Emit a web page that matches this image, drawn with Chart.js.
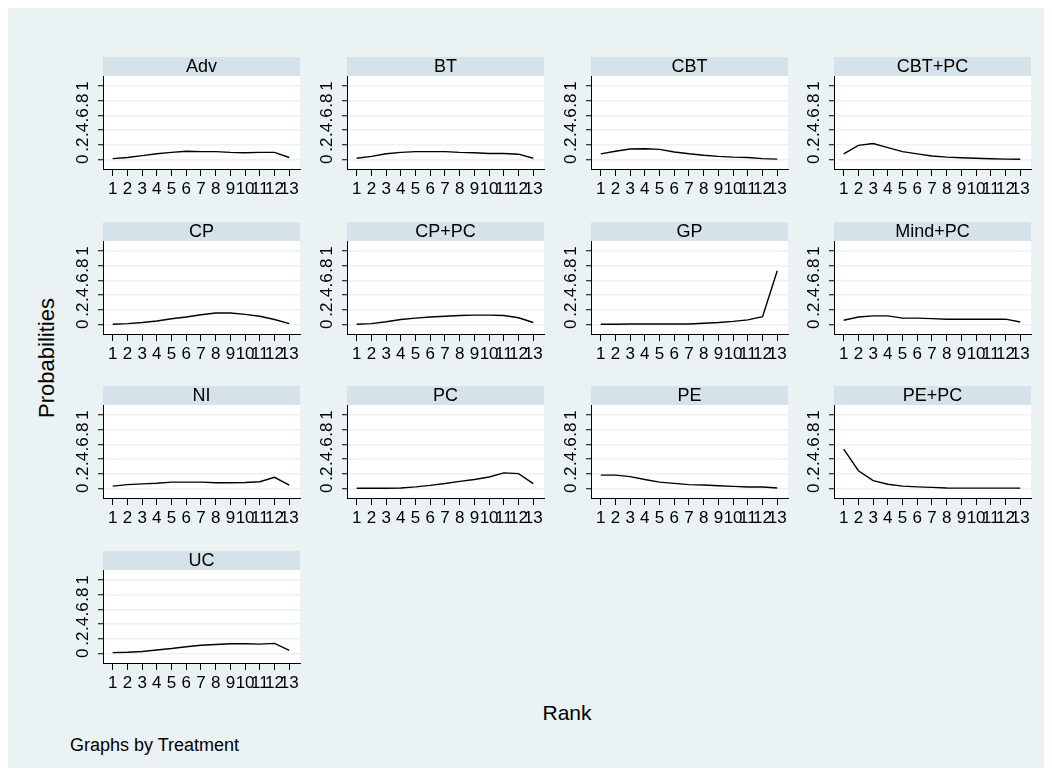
<!DOCTYPE html>
<html>
<head>
<meta charset="utf-8">
<script src="https://cdn.jsdelivr.net/npm/chart.js@4"></script>
<style>
  body { margin: 0; background: #fff; }
  #page { position: relative; width: 1052px; height: 776px; overflow: hidden; }
  #frame { position: absolute; left: 8px; top: 8px; width: 1036px; height: 760px; background: rgb(234,242,243); }
  canvas { position: absolute; }
  .lbl { position: absolute; font-family: "Liberation Sans", Arial, sans-serif; color: #000; white-space: nowrap; }
  #ytitle { left: 47px; top: 358px; font-size: 22px; transform: translate(-50%, -50%) rotate(-90deg); }
  #xtitle { left: 567px; top: 713px; font-size: 21px; transform: translate(-50%, -50%); }
  #note { left: 70px; top: 745px; font-size: 18px; transform: translateY(-50%); }
</style>
</head>
<body>
<div id="page">
  <div id="frame"></div>
  <div class="lbl" id="ytitle">Probabilities</div>
  <div class="lbl" id="xtitle">Rank</div>
  <div class="lbl" id="note">Graphs by Treatment</div>
</div>
<script>
// data
const ranks = [1, 2, 3, 4, 5, 6, 7, 8, 9, 10, 11, 12, 13];
const treatments = ['Adv', 'BT', 'CBT', 'CBT+PC', 'CP', 'CP+PC', 'GP', 'Mind+PC', 'NI', 'PC', 'PE', 'PE+PC', 'UC'];
const adv    = [0.01, 0.025, 0.05, 0.075, 0.095, 0.11, 0.105, 0.105, 0.095, 0.09, 0.095, 0.095, 0.025];
const bt     = [0.015, 0.04, 0.075, 0.095, 0.105, 0.105, 0.105, 0.095, 0.09, 0.08, 0.08, 0.07, 0.015];
const cbt    = [0.075, 0.11, 0.14, 0.145, 0.135, 0.10, 0.075, 0.055, 0.04, 0.03, 0.025, 0.01, 0.003];
const cbtPc  = [0.075, 0.19, 0.215, 0.16, 0.105, 0.075, 0.045, 0.03, 0.022, 0.015, 0.008, 0.002, 0.001];
const cp     = [0, 0.01, 0.025, 0.045, 0.075, 0.10, 0.13, 0.155, 0.155, 0.135, 0.11, 0.065, 0.01];
const cpPc   = [0, 0.01, 0.035, 0.065, 0.085, 0.10, 0.11, 0.12, 0.125, 0.125, 0.12, 0.09, 0.025];
const gp     = [0, 0, 0.005, 0.005, 0.005, 0.005, 0.005, 0.015, 0.025, 0.04, 0.06, 0.105, 0.73];
const mindPc = [0.055, 0.10, 0.115, 0.115, 0.085, 0.085, 0.078, 0.07, 0.07, 0.07, 0.07, 0.07, 0.032];
const ni     = [0.03, 0.05, 0.06, 0.07, 0.085, 0.085, 0.085, 0.075, 0.075, 0.08, 0.09, 0.15, 0.045];
const pc     = [0, 0, 0, 0.005, 0.02, 0.04, 0.065, 0.095, 0.12, 0.155, 0.21, 0.2, 0.065];
const pe     = [0.18, 0.18, 0.16, 0.12, 0.085, 0.068, 0.05, 0.045, 0.036, 0.027, 0.018, 0.018, 0.005];
const pePc   = [0.535, 0.24, 0.105, 0.055, 0.03, 0.02, 0.013, 0.005, 0.002, 0.002, 0.002, 0.002, 0.002];
const uc     = [0.01, 0.015, 0.025, 0.045, 0.065, 0.09, 0.11, 0.12, 0.13, 0.13, 0.125, 0.135, 0.04];
const probs = [adv, bt, cbt, cbtPc, cp, cpPc, gp, mindPc, ni, pc, pe, pePc, uc];
const yTicks = [0, 0.2, 0.4, 0.6, 0.8, 1];
const yTickLabels = ['0', '.2', '.4', '.6', '.8', '1'];

const FONT = '"Liberation Sans", Arial, sans-serif';
const BG = 'rgb(234,242,243)';
const STRIP = 'rgb(214,226,233)';

// panel geometry (page px)
const colLeft = [103, 347, 591, 834];
const rowTop = [76, 241, 405, 570];
const plotW = 197, plotH = 93;
const padL = 40, padR = 6, stripH = 19, padB = 32;

// strip header + rotated y tick labels
const panelDecor = {
  id: 'panelDecor',
  beforeDraw(chart, args, opts) {
    const a = chart.chartArea, ctx = chart.ctx;
    ctx.save();
    ctx.fillStyle = '#fff';
    ctx.fillRect(a.left, a.top, a.width, a.height);
    ctx.fillStyle = STRIP;
    ctx.fillRect(a.left, a.top - stripH, a.width, stripH);
    ctx.fillStyle = '#000';
    ctx.font = '18px ' + FONT;
    ctx.textAlign = 'center';
    ctx.textBaseline = 'middle';
    ctx.fillText(opts.text, (a.left + a.right) / 2, a.top - stripH / 2 + 1);
    ctx.restore();
  },
  afterDraw(chart) {
    const y = chart.scales.y, ctx = chart.ctx;
    ctx.save();
    ctx.font = '17px ' + FONT;
    ctx.fillStyle = '#000';
    ctx.textAlign = 'center';
    ctx.textBaseline = 'middle';
    yTicks.forEach((v, i) => {
      ctx.save();
      ctx.translate(chart.chartArea.left - 19.5, y.getPixelForValue(v));
      ctx.rotate(-Math.PI / 2);
      ctx.fillText(yTickLabels[i], 0, 0);
      ctx.restore();
    });
    ctx.restore();
  }
};

const page = document.getElementById('page');

treatments.forEach((name, i) => {
  const col = i % 4, row = Math.floor(i / 4);
  const c = document.createElement('canvas');
  c.width = padL + plotW + padR;
  c.height = stripH + plotH + padB;
  c.style.left = (colLeft[col] - padL) + 'px';
  c.style.top = (rowTop[row] - stripH) + 'px';
  page.appendChild(c);

  new Chart(c, {
    type: 'line',
    data: {
      datasets: [{
        data: ranks.map((r, k) => ({ x: r, y: probs[i][k] })),
        borderColor: '#000',
        borderWidth: 1.4,
        pointRadius: 0,
        tension: 0,
        fill: false
      }]
    },
    options: {
      responsive: false,
      animation: false,
      events: [],
      layout: { padding: { top: stripH, right: padR, left: 0, bottom: 0 } },
      plugins: {
        legend: { display: false },
        tooltip: { enabled: false },
        panelDecor: { text: name }
      },
      scales: {
        x: {
          type: 'linear', min: 0.34, max: 13.73,
          afterBuildTicks: s => { s.ticks = ranks.map(v => ({ value: v })); },
          afterFit: s => { s.height = padB; },
          ticks: { font: { family: FONT, size: 17 }, color: '#000', padding: 3,
                   autoSkip: false, minRotation: 0, maxRotation: 0, callback: v => String(v) },
          grid: { drawOnChartArea: false, drawTicks: true, tickLength: 7, tickColor: '#000', tickWidth: 1 },
          border: { display: true, color: '#000', width: 1 }
        },
        y: {
          type: 'linear', min: -0.132, max: 1.136,
          afterBuildTicks: s => { s.ticks = yTicks.map(v => ({ value: v })); },
          afterFit: s => { s.width = padL; },
          ticks: { display: false },
          grid: { color: BG, lineWidth: 1.5, drawTicks: true, tickLength: 5, tickColor: '#000', tickWidth: 1 },
          border: { display: true, color: '#000', width: 1 }
        }
      }
    },
    plugins: [panelDecor]
  });
});
</script>
</body>
</html>
